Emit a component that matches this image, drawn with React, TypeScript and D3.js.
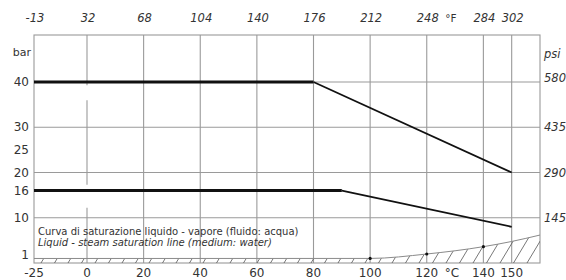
import React from 'react';
import * as d3 from 'd3';

// axis ticks
const celsiusTicks = [-25, 0, 20, 40, 60, 80, 100, 120, 140, 150];
const fahrenheitLabels = ['-13', '32', '68', '104', '140', '176', '212', '248', '284', '302'];
const barTicks = [40, 30, 25, 20, 16, 10, 1];
const barGrid = [40, 30, 20, 10];
const psiBar = [40, 30, 20, 10];
const psiLabels = ['580', '435', '290', '145'];

// pressure / temperature limits
const upperLimit: [number, number][] = [[-25, 40], [80, 40], [150, 20]];
const lowerLimit: [number, number][] = [[-25, 16], [90, 16], [150, 8]];

// saturation curve of water
const saturation: [number, number][] = [[-25, 1], [100, 1.01], [120, 1.99], [140, 3.61], [150, 4.76], [160, 6.18]];
const saturationDots = [100, 120, 140];

const W = 566;
const H = 280;

const x = d3.scaleLinear().domain([-25, 0, 160]).range([34, 87, 540]);
const y = d3.scaleLinear().domain([0, 50.4]).range([263, 35]);

const font = "'DejaVu Sans', sans-serif";

export default function App() {
  const line = d3.line<[number, number]>().x(d => x(d[0])).y(d => y(d[1]));
  const satLine = d3.line<[number, number]>().x(d => x(d[0])).y(d => y(d[1])).curve(d3.curveMonotoneX);
  const satArea = d3.area<[number, number]>().x(d => x(d[0])).y0(y(0)).y1(d => y(d[1])).curve(d3.curveMonotoneX);

  const [x0, x1] = [x(-25), x(160)];
  const [yb, yt] = [y(0), y(50.4)];

  const hatch: number[] = d3.range(x0 - 20, x1 + 5, 13.5);
  const satY = (t: number) => {
    const i = d3.bisector((d: [number, number]) => d[0]).left(saturation, t);
    return saturation[Math.min(i, saturation.length - 1)][1];
  };

  // 0 °C grid line has two breaks
  const zeroSegments: [number, number][] = [[0, 12.2], [17.3, 36], [39.3, 50.4]];

  return (
    <svg width={W} height={H} style={{ position: 'absolute', left: 0, top: 0, background: '#fff' }}>
      <defs>
        <clipPath id="sat">
          <path d={satArea(saturation) || ''} />
        </clipPath>
      </defs>

      {/* grid */}
      <g stroke="#9a9a9a" strokeWidth={1.1}>
        {barGrid.map(b => (
          <line key={b} x1={x0} x2={x1} y1={y(b)} y2={y(b)} />
        ))}
        {celsiusTicks.filter(t => t !== -25 && t !== 0).map(t => (
          <line key={t} x1={x(t)} x2={x(t)} y1={yt} y2={yb} />
        ))}
        {zeroSegments.map((s, i) => (
          <line key={i} x1={x(0)} x2={x(0)} y1={y(s[0])} y2={y(s[1])} />
        ))}
        <rect x={x0} y={yt} width={x1 - x0} height={yb - yt} fill="none" />
      </g>

      {/* saturation region */}
      <g clipPath="url(#sat)" stroke="#555" strokeWidth={0.8}>
        {hatch.map((hx, i) => (
          <line key={i} x1={hx} y1={yb} x2={hx + 18} y2={yb - 30} />
        ))}
      </g>
      <path d={satLine(saturation) || ''} fill="none" stroke="#8a8a8a" strokeWidth={1} />
      {saturationDots.map(t => (
        <circle key={t} cx={x(t)} cy={y(satY(t))} r={1.6} fill="#111" />
      ))}

      {/* limit lines */}
      {[upperLimit, lowerLimit].map((s, i) => (
        <g key={i} fill="none" stroke="#111">
          <path d={line(s.slice(0, 2)) || ''} strokeWidth={3} />
          <path d={line(s.slice(1)) || ''} strokeWidth={1.8} />
        </g>
      ))}

      {/* texts */}
      <g fontFamily={font} fill="#333">
        <text x={38} y={235} fontSize={10}>Curva di saturazione liquido - vapore (fluido: acqua)</text>
        <text x={38} y={246} fontSize={10} fontStyle="italic">Liquid - steam saturation line (medium: water)</text>

        {celsiusTicks.map(t => (
          <text key={t} x={x(t)} y={277} fontSize={12} textAnchor="middle">{t}</text>
        ))}
        <text x={452} y={277} fontSize={12} textAnchor="middle">°C</text>

        {celsiusTicks.map((t, i) => (
          <text key={t} x={x(t) + 1} y={22} fontSize={11.5} fontStyle="italic" textAnchor="middle">{fahrenheitLabels[i]}</text>
        ))}
        <text x={451} y={22} fontSize={10.5} textAnchor="middle">°F</text>

        <text x={31} y={56} fontSize={11} textAnchor="end">bar</text>
        {barTicks.map(b => (
          <text key={b} x={29} y={y(b === 1 ? 1.8 : b) + 4} fontSize={12} textAnchor="end">{b}</text>
        ))}

        <text x={544} y={58} fontSize={11.5} fontStyle="italic">psi</text>
        {psiBar.map((b, i) => (
          <text key={b} x={544} y={y(b) + (i === 0 ? 0 : 4)} fontSize={11.5} fontStyle="italic">{psiLabels[i]}</text>
        ))}
      </g>
    </svg>
  );
}
